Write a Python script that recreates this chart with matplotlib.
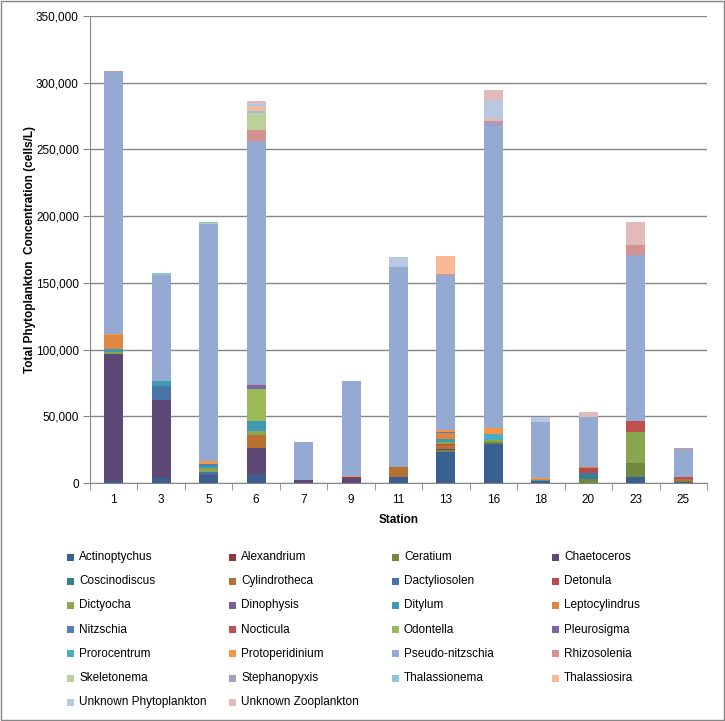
import numpy as np
import matplotlib
matplotlib.use("Agg")
import matplotlib.pyplot as plt
from matplotlib.patches import Rectangle

plt.rcParams['font.family'] = ['Liberation Sans', 'DejaVu Sans']

stations = ['1', '3', '5', '6', '7', '9', '11', '13', '16', '18', '20', '23', '25']

# cells/L per species, one value per station
actinoptychus = [1500, 4000, 5500, 6000, 0, 0, 4500, 23250, 29500, 1750, 0, 4500, 1000]
alexandrium = [0, 0, 0, 0, 0, 0, 0, 0, 0, 0, 0, 0, 0]
ceratium = [0, 0, 0, 0, 0, 0, 0, 1500, 1500, 0, 3000, 10500, 750]
chaetoceros = [95500, 58500, 750, 20250, 2250, 4250, 0, 1000, 0, 0, 0, 0, 0]
coscinodiscus = [0, 0, 0, 0, 0, 0, 0, 0, 0, 0, 4000, 0, 0]
cylindrotheca = [0, 0, 0, 9750, 0, 0, 7500, 3000, 0, 0, 0, 0, 1250]
dactyliosolen = [0, 10250, 2000, 0, 0, 0, 0, 0, 0, 0, 500, 0, 0]
detonula = [0, 0, 0, 0, 0, 500, 0, 750, 0, 0, 3750, 0, 0]
dictyocha = [1250, 0, 2750, 3000, 0, 0, 0, 1500, 1250, 0, 0, 23250, 0]
dinophysis = [0, 0, 0, 0, 0, 0, 0, 0, 0, 0, 0, 0, 0]
ditylum = [2000, 3750, 1750, 7500, 0, 0, 0, 1750, 0, 750, 0, 0, 0]
leptocylindrus = [11000, 0, 0, 0, 0, 0, 0, 4500, 0, 750, 500, 0, 0]
nitzschia = [0, 0, 1250, 0, 0, 0, 0, 1000, 0, 0, 0, 0, 0]
nocticula = [0, 0, 0, 0, 0, 0, 0, 0, 0, 0, 0, 8250, 1500]
odontella = [0, 0, 0, 24000, 0, 0, 0, 0, 0, 0, 0, 0, 0]
pleurosigma = [0, 0, 0, 3000, 0, 0, 0, 0, 0, 0, 0, 0, 0]
prorocentrum = [0, 0, 0, 0, 0, 0, 0, 0, 4500, 0, 0, 0, 0]
protoperidinium = [750, 0, 2500, 0, 0, 750, 0, 1500, 4750, 750, 0, 0, 0]
pseudo_nitzschia = [196000, 79500, 177500, 182500, 28500, 71250, 150000, 116250, 225750, 42000, 37750, 124500, 21000]
rhizosolenia = [1000, 0, 0, 8750, 0, 0, 0, 1000, 0, 0, 0, 7500, 750]
skeletonema = [0, 0, 1000, 12750, 0, 0, 0, 0, 0, 0, 0, 0, 0]
stephanopyxis = [0, 0, 0, 0, 0, 0, 0, 0, 4250, 0, 0, 0, 0]
thalassionema = [0, 1500, 750, 1500, 0, 0, 0, 0, 0, 0, 0, 0, 0]
thalassiosira = [0, 0, 0, 3000, 0, 0, 0, 13250, 1250, 0, 0, 0, 0]
unknown_phyto = [0, 0, 0, 2000, 0, 0, 7500, 0, 14500, 3250, 0, 0, 0]
unknown_zoo = [0, 0, 0, 2500, 0, 0, 0, 0, 7500, 500, 3750, 17250, 0]

species = ['Actinoptychus', 'Alexandrium', 'Ceratium', 'Chaetoceros',
           'Coscinodiscus', 'Cylindrotheca', 'Dactyliosolen', 'Detonula',
           'Dictyocha', 'Dinophysis', 'Ditylum', 'Leptocylindrus',
           'Nitzschia', 'Nocticula', 'Odontella', 'Pleurosigma',
           'Prorocentrum', 'Protoperidinium', 'Pseudo-nitzschia', 'Rhizosolenia',
           'Skeletonema', 'Stephanopyxis', 'Thalassionema', 'Thalassiosira',
           'Unknown Phytoplankton', 'Unknown Zooplankton']

series = [actinoptychus, alexandrium, ceratium, chaetoceros,
          coscinodiscus, cylindrotheca, dactyliosolen, detonula,
          dictyocha, dinophysis, ditylum, leptocylindrus,
          nitzschia, nocticula, odontella, pleurosigma,
          prorocentrum, protoperidinium, pseudo_nitzschia, rhizosolenia,
          skeletonema, stephanopyxis, thalassionema, thalassiosira,
          unknown_phyto, unknown_zoo]

colors = ['#3A6091', '#8E3A38', '#71893F', '#5D4876',
          '#357F93', '#B7702F', '#4673A8', '#B84A47',
          '#8AA651', '#74609A', '#3F99B0', '#DE8642',
          '#4F7FBC', '#C0504D', '#9BBB59', '#8064A2',
          '#4BACC6', '#F79646', '#95AAD3', '#D49391',
          '#BBD09B', '#A99DBF', '#93C4D5', '#F9B994',
          '#BAC7E1', '#E3BABA']

W, H = 725, 721
fig = plt.figure(figsize=(W / 100, H / 100), dpi=100)
ax = fig.add_axes([90 / W, 1 - 483 / H, 617 / W, 467 / H])

x = np.arange(len(stations))
bottom = np.zeros(len(stations))
for name, vals, c in zip(species, series, colors):
    ax.bar(x, vals, 0.4, bottom=bottom, color=c, label=name, zorder=3, linewidth=0)
    bottom += np.array(vals)

ax.set_xlim(-0.5, len(stations) - 0.5)
ax.set_ylim(0, 350000)
ax.set_yticks(np.arange(0, 350001, 50000))
ax.set_yticklabels(['{:,}'.format(v) for v in range(0, 350001, 50000)], fontsize=8.5)
ax.set_xticks(x)
ax.set_xticklabels(stations, fontsize=8.5)
ax.set_xticks(np.arange(-0.5, len(stations)), minor=True)
ax.tick_params(axis='x', which='major', length=0, pad=8)
ax.tick_params(axis='x', which='minor', length=5, color='#868686')
ax.tick_params(axis='y', length=5, color='#868686', pad=3)
ax.grid(axis='y', color='#868686', linewidth=1, zorder=0)
for s in ['top', 'right']:
    ax.spines[s].set_visible(False)
ax.spines['left'].set_color('#868686')
ax.spines['bottom'].set_color('#868686')

ax.set_ylabel('Total Phytoplankton  Concentration (cells/L)', fontsize=8.5,
              fontweight='bold', labelpad=0)
ax.set_xlabel('Station', fontsize=8.5, fontweight='bold', labelpad=6)

# legend laid out row by row like the original, 4 columns
col_x = [67, 229, 392, 552]
row_y0, row_step = 557, 24.2
for i, (name, c) in enumerate(zip(species, colors)):
    px = col_x[i % 4]
    py = row_y0 + row_step * (i // 4)
    fig.add_artist(Rectangle((px / W, 1 - (py + 3.5) / H), 7 / W, 7 / H,
                             transform=fig.transFigure, color=c, linewidth=0))
    fig.text((px + 12) / W, 1 - py / H, name, fontsize=8.5, va='center', ha='left')

fig.add_artist(Rectangle((0.001, 0.001), 0.998, 0.998, transform=fig.transFigure,
                         fill=False, edgecolor='#868686', linewidth=1))

fig.savefig('out.png', dpi=100)
